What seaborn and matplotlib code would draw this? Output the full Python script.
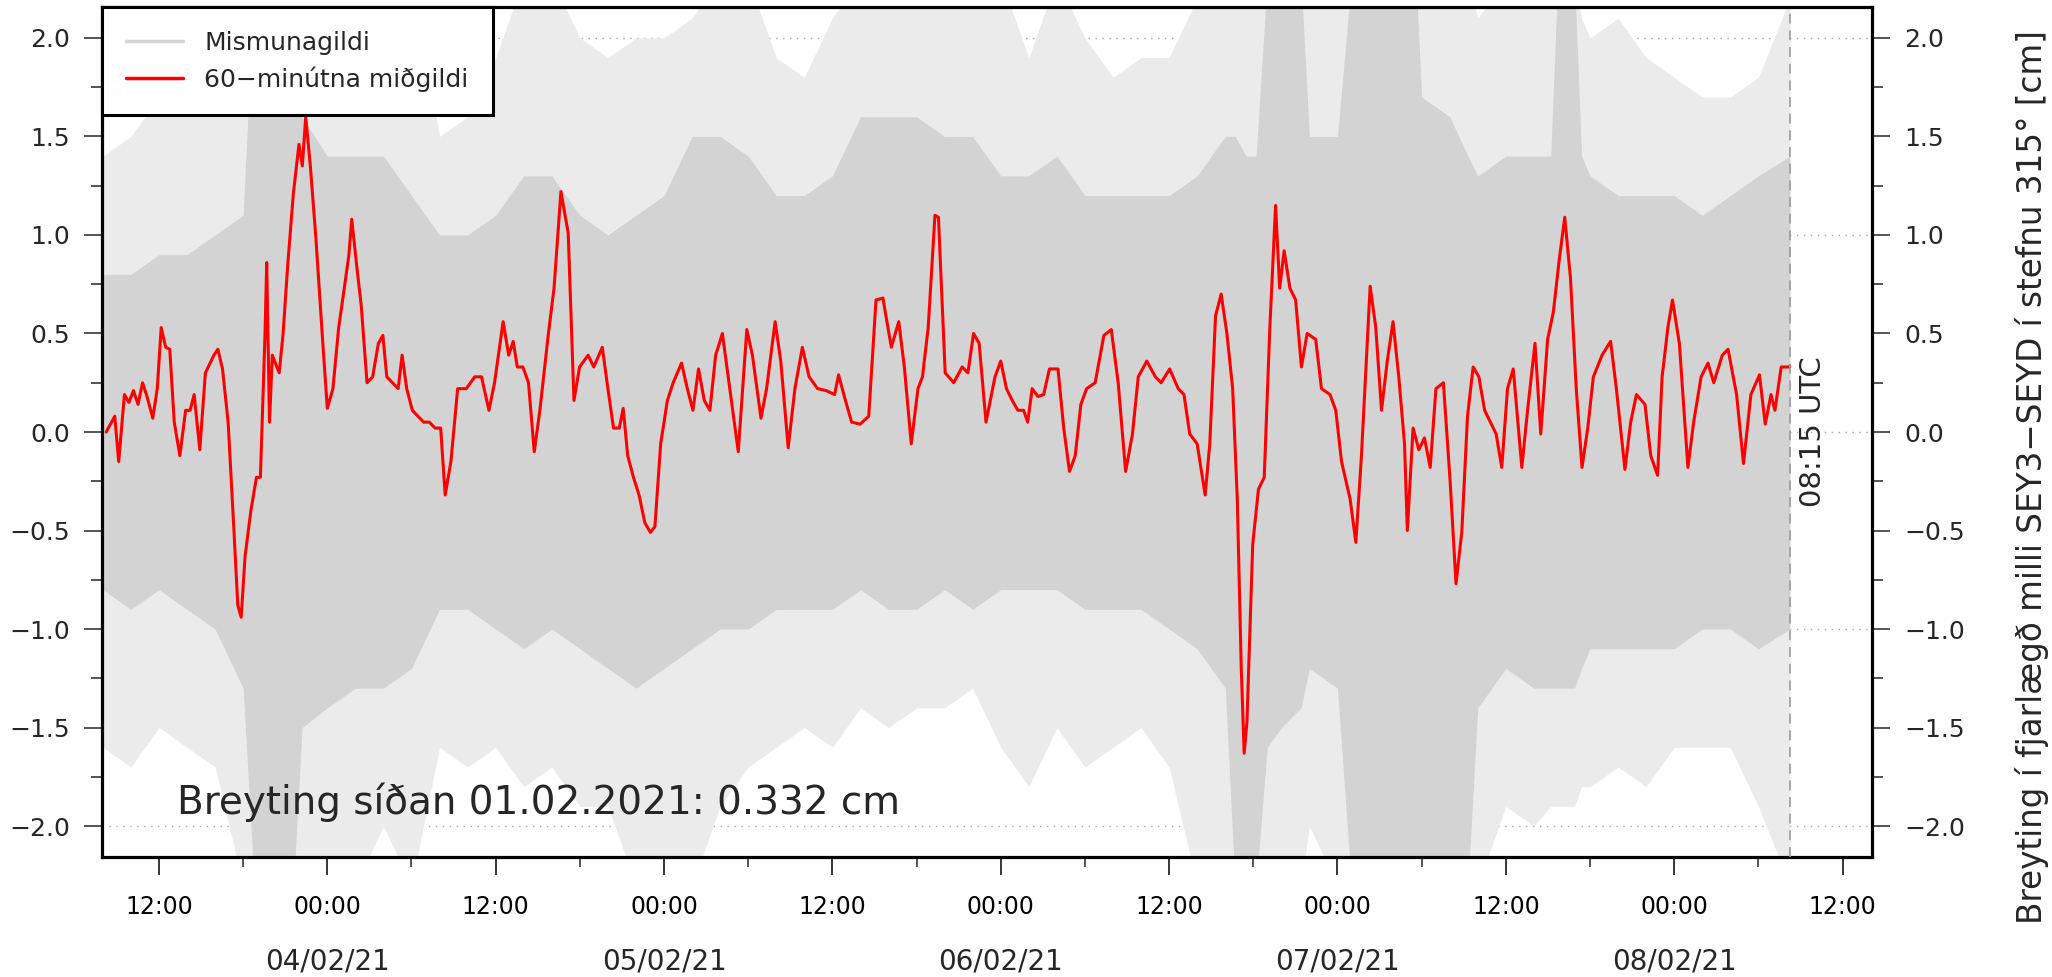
import numpy as np
import pandas as pd
import matplotlib
matplotlib.use("Agg")
import matplotlib.pyplot as plt
import matplotlib.transforms as mtransforms
from matplotlib.lines import Line2D
import seaborn as sns

# ---------------- data (hours since 2021-02-03 00:00 UTC) ----------------
median_hours = [8.24, 8.85, 9.13, 9.54, 9.86, 10.18, 10.51, 10.83, 11.15, 11.56, 11.88, 12.16, 12.48, 12.77,
                13.09, 13.49, 13.90, 14.22, 14.51, 14.91, 15.31, 15.92, 16.20, 16.53, 16.93, 17.33, 17.62,
                17.86, 18.14, 18.55, 18.95, 19.23, 19.56, 19.68, 19.88, 20.08, 20.57, 20.85, 21.17, 21.58,
                21.98, 22.22, 22.46, 22.79, 23.19, 23.68, 24.00, 24.40, 24.81, 25.21, 25.54, 25.74, 26.10,
                26.42, 26.83, 27.23, 27.64, 27.96, 28.24, 28.65, 29.05, 29.33, 29.66, 30.06, 30.46, 30.87,
                31.27, 31.68, 32.08, 32.40, 32.81, 33.29, 33.90, 34.51, 34.99, 35.52, 35.92, 36.53, 36.93,
                37.25, 37.54, 37.94, 38.34, 38.75, 39.15, 39.76, 40.16, 40.65, 41.17, 41.58, 41.98, 42.59,
                42.99, 43.60, 44.00, 44.40, 44.81, 45.09, 45.41, 45.82, 46.22, 46.63, 47.03, 47.35, 47.76,
                48.24, 48.65, 49.25, 49.66, 50.06, 50.46, 50.87, 51.27, 51.68, 52.16, 52.69, 53.29, 53.90,
                54.30, 54.91, 55.31, 55.92, 56.32, 56.85, 57.33, 57.86, 58.34, 58.95, 59.56, 60.16, 60.44,
                60.97, 61.37, 61.98, 62.59, 63.11, 63.60, 64.20, 64.73, 65.13, 65.62, 66.10, 66.42, 66.83,
                67.31, 67.56, 68.04, 68.65, 69.25, 69.66, 70.06, 70.46, 70.95, 71.59, 72.00, 72.41, 72.82,
                73.22, 73.63, 73.92, 74.24, 74.65, 75.06, 75.47, 76.08, 76.49, 76.90, 77.31, 77.71, 78.12,
                78.73, 79.35, 79.88, 80.37, 80.90, 81.39, 81.80, 82.41, 83.02, 83.43, 84.04, 84.65, 85.06,
                85.47, 86.00, 86.57, 86.90, 87.31, 87.71, 88.12, 88.53, 88.86, 89.14, 89.35, 89.55, 89.96,
                90.37, 90.78, 91.18, 91.59, 91.88, 92.20, 92.61, 93.02, 93.43, 93.84, 94.45, 94.86, 95.47,
                95.88, 96.29, 96.90, 97.31, 97.71, 98.12, 98.33, 98.73, 99.14, 99.55, 99.96, 100.37, 100.78,
                100.98, 101.39, 101.80, 102.20, 102.61, 103.02, 103.55, 104.04, 104.45, 104.86, 105.27,
                105.67, 106.08, 106.49, 106.90, 107.31, 107.71, 108.12, 108.53, 109.14, 109.55, 110.08,
                110.49, 110.98, 111.39, 111.80, 112.20, 112.61, 113.02, 113.43, 113.84, 114.24, 114.86,
                115.47, 115.88, 116.49, 116.90, 117.31, 117.92, 118.33, 118.82, 119.14, 119.55, 119.88,
                120.37, 120.98, 121.39, 121.92, 122.41, 122.82, 123.43, 123.84, 124.45, 124.94, 125.47,
                126.08, 126.49, 126.90, 127.18, 127.63, 128.12, 128.25]
median_values = [0.00, 0.08, -0.15, 0.19, 0.15, 0.21, 0.14, 0.25, 0.18, 0.07, 0.22, 0.53, 0.43, 0.42,
                 0.05, -0.12, 0.11, 0.11, 0.19, -0.09, 0.30, 0.39, 0.42, 0.32, 0.05, -0.48, -0.88,
                 -0.94, -0.63, -0.40, -0.23, -0.23, 0.50, 0.86, 0.05, 0.39, 0.30, 0.50, 0.84, 1.21,
                 1.46, 1.35, 1.60, 1.35, 0.98, 0.45, 0.12, 0.22, 0.53, 0.73, 0.90, 1.08, 0.84,
                 0.64, 0.25, 0.28, 0.45, 0.49, 0.28, 0.25, 0.22, 0.39, 0.22, 0.11, 0.08, 0.05,
                 0.05, 0.02, 0.02, -0.32, -0.15, 0.22, 0.22, 0.28, 0.28, 0.11, 0.25, 0.56, 0.39,
                 0.46, 0.33, 0.33, 0.25, -0.10, 0.11, 0.50, 0.73, 1.22, 1.01, 0.16, 0.33, 0.39,
                 0.33, 0.43, 0.22, 0.02, 0.02, 0.12, -0.12, -0.23, -0.32, -0.46, -0.51, -0.48, -0.06,
                 0.16, 0.25, 0.35, 0.22, 0.11, 0.32, 0.16, 0.11, 0.39, 0.50, 0.22, -0.10, 0.52,
                 0.39, 0.07, 0.22, 0.56, 0.36, -0.08, 0.22, 0.43, 0.28, 0.22, 0.21, 0.19, 0.29,
                 0.15, 0.05, 0.04, 0.08, 0.67, 0.68, 0.43, 0.56, 0.33, -0.06, 0.22, 0.28, 0.53,
                 1.10, 1.09, 0.30, 0.25, 0.33, 0.30, 0.50, 0.45, 0.05, 0.28, 0.36, 0.22, 0.16,
                 0.11, 0.11, 0.05, 0.22, 0.18, 0.19, 0.32, 0.32, 0.02, -0.20, -0.12, 0.14, 0.22,
                 0.25, 0.49, 0.52, 0.25, -0.20, -0.01, 0.28, 0.36, 0.28, 0.25, 0.32, 0.22, 0.19,
                 -0.01, -0.06, -0.32, -0.06, 0.59, 0.70, 0.50, 0.22, -0.34, -1.19, -1.63, -1.47, -0.57,
                 -0.29, -0.23, 0.53, 1.15, 0.73, 0.92, 0.73, 0.67, 0.33, 0.50, 0.47, 0.22, 0.19,
                 0.11, -0.15, -0.34, -0.56, -0.12, 0.45, 0.74, 0.53, 0.11, 0.36, 0.56, 0.28, -0.06,
                 -0.50, 0.02, -0.09, -0.03, -0.18, 0.22, 0.25, -0.26, -0.77, -0.51, 0.08,
                 0.33, 0.28, 0.11, 0.05, -0.01, -0.18, 0.22, 0.32, -0.18, 0.11, 0.45,
                 -0.01, 0.47, 0.61, 0.87, 1.09, 0.78, 0.22, -0.18, 0.02, 0.28, 0.39,
                 0.46, 0.22, -0.19, 0.05, 0.19, 0.14, -0.12, -0.22, 0.28, 0.53, 0.67,
                 0.45, -0.18, 0.05, 0.28, 0.35, 0.25, 0.39, 0.42, 0.19, -0.16, 0.19,
                 0.29, 0.04, 0.19, 0.11, 0.33, 0.33, 0.332]

# envelope of the raw difference values (Mismunagildi)
band_hours = [8, 10, 12, 14, 16, 18, 18.8, 20, 21.6, 22.2,
              24, 26, 28, 30, 32, 34, 36, 38, 40, 42, 44, 46, 48, 50, 52, 54, 56, 58, 60, 62, 64, 66,
              68, 70, 72, 74, 76, 78, 80, 82, 84, 86,
              88, 88.7, 89.5, 90.2, 91, 92, 93.4, 94,
              96, 97, 98, 100, 101.6, 102, 104, 105.3, 106,
              108, 110, 111.2, 111.7, 112.9, 113.4, 114,
              116, 118, 120, 122, 124, 126, 128.25]
core_upper = [0.8, 0.8, 0.9, 0.9, 1.0, 1.1, 2.3, 2.3, 2.3, 1.6,
              1.4, 1.4, 1.4, 1.2, 1.0, 1.0, 1.1, 1.3, 1.3, 1.1, 1.0, 1.1, 1.2, 1.5, 1.5, 1.4, 1.2, 1.2,
              1.3, 1.6, 1.6, 1.6, 1.5, 1.5, 1.3, 1.3, 1.4, 1.2, 1.2, 1.2, 1.2, 1.3,
              1.5, 1.5, 1.4, 1.4, 2.3, 2.3, 2.3, 1.5,
              1.5, 2.3, 2.3, 2.3, 2.3, 1.7, 1.6, 1.4, 1.3,
              1.4, 1.4, 1.4, 2.3, 2.3, 1.4, 1.3,
              1.2, 1.2, 1.2, 1.1, 1.2, 1.3, 1.4]
core_lower = [-0.8, -0.9, -0.8, -0.9, -1.0, -1.3, -2.3, -2.3, -2.3, -1.5,
              -1.4, -1.3, -1.3, -1.2, -0.9, -0.9, -1.0, -1.1, -1.0, -1.1, -1.2, -1.3, -1.2, -1.1, -1.0,
              -1.0, -0.9, -0.9, -0.9, -0.8, -0.9, -0.9, -0.8, -0.9, -0.8, -0.8, -0.8, -0.9, -0.9, -0.9,
              -1.0, -1.1,
              -1.3, -2.3, -2.3, -2.3, -1.6, -1.5, -1.4, -1.2,
              -1.3, -2.3, -2.3, -2.3, -2.3, -2.3, -2.3, -2.3, -1.4,
              -1.2, -1.3, -1.3, -1.3, -1.3, -1.2, -1.1,
              -1.1, -1.1, -1.1, -1.0, -1.0, -1.1, -1.0]
spike_upper = [1.4, 1.5, 1.7, 2.3, 2.3, 2.3, 2.3, 2.3, 2.3, 2.3,
               2.3, 2.3, 2.3, 2.3, 1.5, 1.6, 1.9, 2.3, 2.3, 2.0, 1.9, 2.0, 2.0, 2.1, 2.3, 2.3, 1.9, 1.8,
               2.1, 2.3, 2.3, 2.3, 2.3, 2.3, 2.3, 1.9, 2.3, 2.0, 1.8, 1.9, 1.9, 2.2,
               2.3, 2.3, 2.3, 2.3, 2.3, 2.3, 2.3, 2.3,
               2.3, 2.3, 2.3, 2.3, 2.3, 2.3, 2.3, 2.3, 2.1,
               2.3, 2.3, 2.3, 2.3, 2.3, 2.1, 2.0,
               2.1, 1.9, 1.8, 1.7, 1.7, 1.8, 2.2]
spike_lower = [-1.6, -1.7, -1.5, -1.6, -1.7, -2.3, -2.3, -2.3, -2.3, -2.3,
               -2.3, -2.3, -2.0, -2.3, -1.6, -1.7, -1.6, -1.8, -1.7, -1.9, -1.9, -2.3, -2.3, -2.3, -1.9,
               -1.7, -1.6, -1.5, -1.6, -1.4, -1.5, -1.4, -1.4, -1.3, -1.6, -1.8, -1.5, -1.7, -1.6, -1.5,
               -1.7, -2.3,
               -2.3, -2.3, -2.3, -2.3, -2.3, -2.3, -2.3, -2.0,
               -2.3, -2.3, -2.3, -2.3, -2.3, -2.3, -2.3, -2.3, -2.3,
               -1.9, -2.0, -1.9, -1.9, -1.9, -1.8, -1.8,
               -1.7, -1.8, -1.6, -1.6, -1.6, -1.9, -2.3]

xtick_hours = [12, 24, 36, 48, 60, 72, 84, 96, 108, 120, 132]
xtick_labels = ["12:00", "00:00", "12:00", "00:00", "12:00", "00:00", "12:00", "00:00", "12:00", "00:00", "12:00"]
xminor_hours = [18, 30, 42, 54, 66, 78, 90, 102, 114, 126]
date_hours = [24, 48, 72, 96, 120]
date_labels = ["04/02/21", "05/02/21", "06/02/21", "07/02/21", "08/02/21"]
ytick_values = [-2.0, -1.5, -1.0, -0.5, 0.0, 0.5, 1.0, 1.5, 2.0]
ytick_labels = ["\u22122.0", "\u22121.5", "\u22121.0", "\u22120.5", "0.0", "0.5", "1.0", "1.5", "2.0"]
yminor_values = [-1.75, -1.25, -0.75, -0.25, 0.25, 0.75, 1.25, 1.75]
grid_values = [-2, -1, 0, 1, 2]
last_hour = 128.25
last_label = "08:15 UTC"
change_text = "Breyting síðan 01.02.2021: 0.332 cm"
legend_labels = ["Mismunagildi", "60\u2212minútna miðgildi"]
ylabel_text = "Breyting í fjarlægð milli SEY3\u2212SEYD í stefnu 315° [cm]"

# ---------------- plotting ----------------
sns.set_style("white")
plt.rcParams["font.family"] = ["DejaVu Sans"]

W, H = 2052, 977
fig = plt.figure(figsize=(W / 100, H / 100), dpi=100)
left, right, top, bottom = 102, 1872, 7, 857
ax = fig.add_axes([left / W, 1 - bottom / H, (right - left) / W, (bottom - top) / H])

GRAY = "#d3d3d3"
for g in grid_values:
    ax.axhline(g, color="#a8a8a8", lw=1.0, ls=(0, (1, 4)), zorder=0)

ax.fill_between(band_hours, spike_lower, spike_upper, color="#ebebeb", lw=0, zorder=1)
ax.fill_between(band_hours, core_lower, core_upper, color=GRAY, lw=0, zorder=2)

med = pd.DataFrame({"t": median_hours, "v": median_values})
sns.lineplot(data=med, x="t", y="v", color="red", lw=2.2, ax=ax, zorder=4)

ax.axvline(last_hour, color="#9a9a9a", lw=1.2, ls=(0, (6, 4)), zorder=5)

ax.set_xlim(7.94, 134.1)
ax.set_ylim(-2.157, 2.157)
ax.set_xlabel("")
ax.set_ylabel("")

ax.set_xticks(xtick_hours)
ax.set_xticklabels(xtick_labels)
ax.set_xticks(xminor_hours, minor=True)
ax.set_yticks(ytick_values)
ax.set_yticklabels(ytick_labels)
ax.set_yticks(yminor_values, minor=True)

ax.tick_params(axis="x", which="major", direction="out", length=13, width=1.1, pad=14,
               labelsize=17, bottom=True, top=False, colors="black")
ax.tick_params(axis="x", which="minor", direction="out", length=7, width=1.1, bottom=True, top=False)
ax.tick_params(axis="y", which="major", direction="out", length=13, width=1.1, pad=10,
               labelsize=18, left=True, right=True, labelleft=True, labelright=True)
ax.tick_params(axis="y", which="minor", direction="out", length=8, width=1.1, left=True, right=True)

for sp in ax.spines.values():
    sp.set_visible(True)
    sp.set_color("black")
    sp.set_linewidth(2.3)

trans = mtransforms.blended_transform_factory(ax.transData, fig.transFigure)
for h, lab in zip(date_hours, date_labels):
    ax.text(h, 1 - 962 / H, lab, transform=trans, ha="center", va="center", fontsize=20)

ax.text(13.3, -1.94, change_text, ha="left", va="baseline", fontsize=28, zorder=6)
ax.text(129.9, 0.0, last_label, rotation=90, ha="center", va="center", fontsize=21, zorder=6)

fig.text(2032 / W, 0.512, ylabel_text, rotation=90, ha="center", va="center", fontsize=23.5)

handles = [Line2D([], [], color=GRAY, lw=2.5), Line2D([], [], color="red", lw=2.5)]
leg = ax.legend(handles, legend_labels, loc="upper left", bbox_to_anchor=(0, 1), borderaxespad=0,
                fontsize=18, frameon=True, fancybox=False, framealpha=1, edgecolor="black",
                handlelength=2.3, handletextpad=0.85, labelspacing=0.45, borderpad=0.95)
leg.get_frame().set_linewidth(2.2)
leg.set_zorder(10)

fig.savefig("out.png", dpi=100)
